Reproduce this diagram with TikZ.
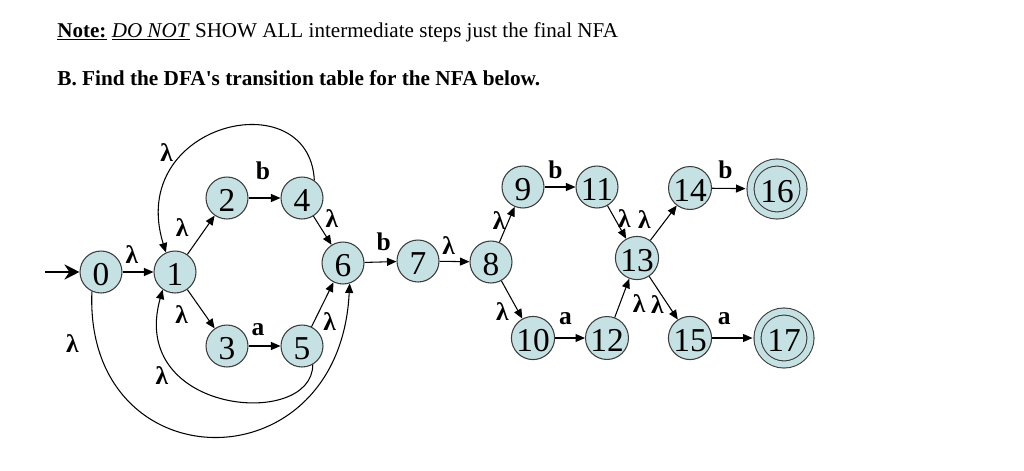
\documentclass[tikz,border=0pt]{standalone}
\usepackage{fontspec}
\setmainfont{Liberation Serif}
\usetikzlibrary{arrows.meta}
\definecolor{stfill}{RGB}{198,225,227}
\definecolor{stline}{RGB}{60,60,60}
\tikzset{
  statebox/.style={circle, draw=stline, line width=0.6pt, fill=stfill, minimum size=0.84cm,
                   inner sep=0pt, text height=0.54cm, font=\fontsize{19}{19}\selectfont},
  acceptbox/.style={statebox, minimum size=1.06cm, double=stfill, double distance=0.12cm,
                    outer sep=0.1cm},
  arr/.style={-{Triangle[length=0.19cm,width=0.16cm]}, line width=0.6pt},
  startarr/.style={-{Stealth[length=0.3cm,width=0.3cm]}, line width=1.6pt},
  lbl/.style={font=\fontsize{14.5}{14.5}\selectfont\bfseries, inner sep=1.5pt}}

\begin{document}
\begin{tikzpicture}[x=0.02cm, y=-0.02cm]
    \useasboundingbox (0,0) rectangle (1024,470);
    % the question
    \node[anchor=base west, inner sep=0pt, font=\fontsize{12}{12}\selectfont] (note) at (57,37)
      {\underline{\textbf{Note:}} \underline{\textit{DO NOT}} SHOW ALL intermediate steps just the final NFA};
    \node[anchor=base west, inner sep=0pt, font=\fontsize{12.1}{12.1}\selectfont\bfseries] (task) at (57,85)
      {B. Find the DFA\textquotesingle s transition table for the NFA below.};
    % states
    \node[statebox] (n0) at (101,272) {0};
    \node[statebox] (n1) at (175,272) {1};
    \node[statebox] (n2) at (227,198) {2};
    \node[statebox] (n4) at (302,198) {4};
    \node[statebox] (n3) at (227,346) {3};
    \node[statebox] (n5) at (302,346) {5};
    \node[statebox] (n6) at (343,263) {6};
    \node[statebox] (n7) at (418,261) {7};
    \node[statebox] (n8) at (491,262) {8};
    \node[statebox] (n9) at (523,187) {9};
    \node[statebox] (n11) at (597,187) {11};
    \node[statebox] (n10) at (533,338) {10};
    \node[statebox] (n12) at (607,338) {12};
    \node[statebox] (n13) at (637,258) {13};
    \node[statebox] (n14) at (690,188) {14};
    \node[statebox] (n15) at (690,338) {15};
    \node[acceptbox] (n16) at (777,189) {16};
    \node[acceptbox] (n17) at (784,338) {17};
    \coordinate (start) at (45,272);
    % transitions
    \draw[startarr] (start) -- (n0);
    \draw[arr] (n0) -- node[lbl, pos=0.3, above=0.1cm] {λ} (n1);
    \draw[arr] (n1) -- node[lbl, pos=0.7, left=0.3cm] {λ} (n2);
    \draw[arr] (n1) -- node[lbl, pos=0.65, left=0.28cm] {λ} (n3);
    \draw[arr] (n2) -- node[lbl, pos=0.45, above=0.3cm] {b} (n4);
    \draw[arr] (n3) -- node[lbl, pos=0.3, above=0.15cm] {a} (n5);
    \draw[arr] (n4) -- node[lbl, above right] {λ} (n6);
    \draw[arr] (n5) -- node[lbl, pos=0.4, below right] {λ} (n6);
    \draw[arr] (n6) -- node[lbl, pos=0.6, above=0.16cm] {b} (n7);
    \draw[arr] (n7) -- node[lbl, pos=0.3, above=0.08cm] {λ} (n8);
    \draw[arr] (n8) -- node[lbl, pos=0.6, left] {λ} (n9);
    \draw[arr] (n8) -- node[lbl, below left] {λ} (n10);
    \draw[arr] (n9) -- node[lbl, pos=0.35, above=0.1cm] {b} (n11);
    \draw[arr] (n10) -- node[lbl, pos=0.35, above=0.2cm] {a} (n12);
    \draw[arr] (n11) -- node[lbl, pos=0.4, right] {λ} (n13);
    \draw[arr] (n12) -- node[lbl, pos=0.35, right=0.2cm] {λ} (n13);
    \draw[arr] (n13) -- node[lbl, pos=0.6, left=0.25cm] {λ} (n14);
    \draw[arr] (n13) -- node[lbl, pos=0.65, left=0.02cm] {λ} (n15);
    \draw[arr] (n14) -- node[lbl, pos=0.4, above=0.12cm] {b} (n16);
    \draw[arr] (n15) -- node[lbl, pos=0.3, above=0.2cm] {a} (n17);
    % the loops back
    \draw[arr] (n4.55) .. controls +(-5,-100) and +(-40,-130) .. node[lbl, pos=0.72, above left] {λ} (n1.115);
    \draw[arr] (n5.-60) .. controls +(0,65) and +(-35,125) .. node[lbl, pos=0.75, below left] {λ} (n1.235);
    \draw[arr] (n0.245) .. controls +(-8,192) and +(-10,205) .. node[lbl, pos=0.1, left=0.3cm] {λ} (n6.-72);
\end{tikzpicture}
\end{document}
